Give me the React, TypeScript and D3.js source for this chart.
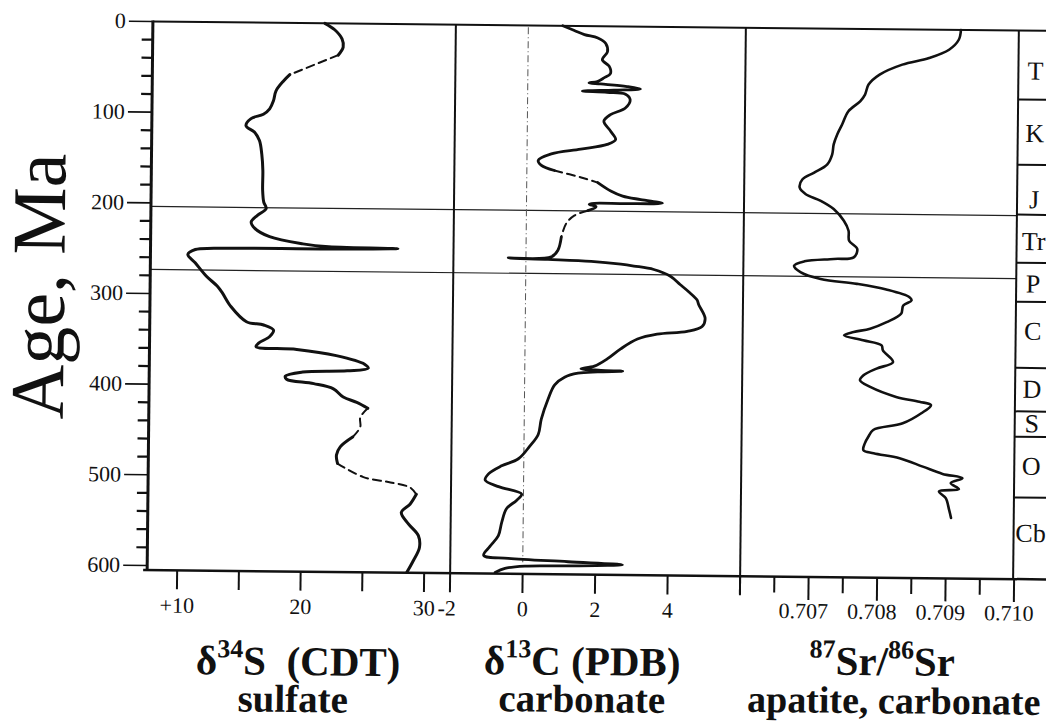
import React from "react";
import * as d3 from "d3";

// age (Ma), value, 1 = the piece of curve ending at this point is dashed
const sulfurPoints = [
  [0, 21.5, 0], [7, 22.3, 0], [17, 22.9, 0], [26, 23.0, 0], [35, 22.6, 0], [57, 18.7, 1],
  [64, 18.2, 0], [75, 17.6, 0], [86, 17.4, 0], [95, 17.1, 0], [101, 16.6, 0], [106, 15.6, 0],
  [114, 15.2, 0], [121, 15.9, 0], [130, 16.3, 0], [145, 16.5, 0], [163, 16.6, 0], [185, 16.6, 0],
  [198, 16.7, 0], [205, 16.9, 0], [212.5, 16.2, 0], [220, 15.7, 0], [227, 16.0, 0], [236, 17.2, 0],
  [243.5, 19.9, 0], [246.4, 22.0, 0], [247.6, 27.6, 0], [248.8, 22.0, 0], [249.4, 12.7, 0],
  [251, 11.2, 0], [256.5, 10.6, 0], [265.6, 11.2, 0], [280, 12.1, 0], [291, 13.0, 0], [298, 13.4, 0],
  [313, 14.1, 0], [330, 15.4, 0], [333.4, 16.8, 0], [339, 17.6, 0], [346, 17.3, 0], [353.5, 16.4, 0],
  [357.3, 16.2, 0], [360, 19.5, 0], [366.4, 22.7, 0], [375.5, 25.0, 0], [380, 25.3, 0], [383, 23.6, 0],
  [384.8, 20.0, 0], [389.5, 18.6, 0], [393, 18.7, 0], [397.5, 20.9, 0], [403, 22.5, 0], [412, 23.3, 0],
  [417.7, 24.4, 0], [424, 25.3, 0], [434, 24.7, 1], [445, 24.7, 1], [456, 24.1, 1], [467, 23.1, 0],
  [476, 22.8, 0], [485.4, 22.9, 0], [500, 25.0, 1], [505.6, 27.2, 1], [511, 28.8, 1], [518.4, 29.3, 1],
  [529.4, 28.8, 0], [538.6, 28.1, 0], [551.3, 28.7, 0], [564, 29.5, 0], [577, 29.6, 0], [592, 29.1, 0],
  [604.5, 28.6, 0],
];

const carbonPoints = [
  [0, 0.95, 0], [5, 1.27, 0], [9.5, 1.55, 0], [13, 1.92, 0], [19, 2.14, 0], [28, 2.19, 0], [37, 2.05, 0],
  [44, 2.24, 0], [52, 2.28, 0], [57, 2.1, 0], [61, 1.92, 0], [62.6, 1.69, 0], [63.7, 2.01, 0],
  [66.3, 2.74, 0], [68.8, 3.11, 0], [70.3, 2.38, 0], [71.8, 1.51, 0], [72.9, 2.19, 0], [74.7, 2.7, 0],
  [81, 2.83, 0], [90, 2.7, 0], [97.4, 2.29, 0], [104.7, 2.11, 0], [115.7, 2.3, 0], [124.8, 2.44, 0],
  [130.3, 2.21, 0], [135.8, 1.48, 0], [141.3, 0.67, 0], [148.7, 0.31, 0], [154.2, 0.4, 0],
  [159.7, 0.76, 0], [167, 1.5, 1], [172.5, 1.96, 1], [181.6, 2.32, 0], [187.1, 2.65, 0],
  [190.8, 3.15, 0], [194.5, 3.75, 0], [195.4, 2.74, 0], [195.4, 1.87, 0], [196.5, 1.73, 0],
  [199.2, 1.92, 0], [203.6, 1.69, 0], [209, 1.33, 1], [218, 1.1, 1], [233, 0.97, 1], [247.6, 0.88, 0],
  [255, 0.7, 0], [256.7, -0.49, 0], [257.8, 0.61, 0], [259.4, 1.8, 0], [262.2, 2.62, 0],
  [264.1, 2.98, 0], [267.7, 3.53, 0], [275, 3.99, 0], [284, 4.26, 0], [291.6, 4.49, 0],
  [300.7, 4.73, 0], [306, 4.78, 0], [321, 4.96, 0], [330, 4.88, 0], [335.5, 4.47, 0], [339, 3.64, 0],
  [344.6, 3.1, 0], [355.6, 2.64, 0], [366.6, 2.28, 0], [375, 1.92, 0], [378, 1.55, 0], [379.5, 2.1, 0],
  [380.2, 2.7, 0], [381.3, 2.01, 0], [383, 1.47, 0], [387.5, 1.1, 0], [396, 0.83, 0], [412, 0.65, 0],
  [434, 0.47, 0], [451, 0.39, 0], [464, 0.16, 0], [478, -0.15, 0], [486, -0.61, 0], [495, -0.97, 0],
  [502, -1.06, 0], [509, -0.69, 0], [517, -0.05, 0], [524, -0.19, 0], [533, -0.46, 0], [548, -0.59, 0],
  [563, -0.68, 0], [575, -0.91, 0], [585, -1.08, 0], [588, -0.4, 0], [591, 1.25, 0], [593.7, 2.75, 0],
  [595.6, 1.25, 0], [596.3, 0.06, 0], [599, -0.49, 0], [603.6, -0.76, 0],
];

const strontiumPoints = [
  [0, 0.70914], [10.8, 0.70911], [21.9, 0.70897], [31.3, 0.70868], [38.9, 0.70829], [50.2, 0.70796],
  [61.3, 0.7078], [72.3, 0.70775], [79.8, 0.70768], [90.9, 0.70751], [105.6, 0.70742], [116.6, 0.70735],
  [127.6, 0.7073], [138.6, 0.70728], [149.7, 0.70721], [159, 0.70702], [166.5, 0.70685], [175.7, 0.70681],
  [182.9, 0.7069], [190.1, 0.70712], [199, 0.70731], [211.8, 0.70746], [222.7, 0.70753], [233.7, 0.70754],
  [242.7, 0.70766], [252, 0.70761], [254, 0.70732], [257, 0.70689], [261.9, 0.70674], [269.1, 0.70684],
  [276.2, 0.70713], [281.2, 0.70766], [287.1, 0.70809], [295.3, 0.70843], [298.9, 0.70846],
  [304.5, 0.70834], [313.7, 0.70831], [323.1, 0.7081], [330.5, 0.70786], [334.4, 0.70762],
  [338.1, 0.70748], [343.4, 0.70776], [348.8, 0.70803], [354.3, 0.70805], [367, 0.7082], [374.4, 0.70796],
  [381.9, 0.70777], [387.5, 0.70772], [394.7, 0.70787], [405.4, 0.70825], [410.5, 0.70859],
  [414.1, 0.70876], [423.2, 0.70862], [434.5, 0.70835], [442.2, 0.70792], [449.7, 0.70785],
  [457, 0.7078], [464.4, 0.70778], [467.8, 0.70793], [473, 0.70831], [482, 0.70865], [489.8, 0.70894],
  [494.3, 0.70923], [499.9, 0.70906], [506.4, 0.70918], [509.2, 0.70889], [516.5, 0.70899],
  [529.2, 0.70904], [538.3, 0.70907],
];

const periodNames = ["T", "K", "J", "Tr", "P", "C", "D", "S", "O", "Cb"];
const periodBoundaries = [76, 148, 203, 256, 299, 372, 420, 448, 515];
const periodLabelAges = [44, 113, 186, 232, 279, 331, 395, 433, 480, 554];
const markerAges = [204, 273.5];

const sulfurTicks = [10, 15, 20, 25, 30];
const sulfurLabels = ["+10", "20", "30"];
const carbonTicks = [-2, 0, 2, 4, 6];
const carbonLabels = ["-2", "0", "2", "4"];
const srTicks = [0.7065, 0.707, 0.7075, 0.708, 0.7085, 0.709, 0.7095, 0.71];
const srLabels = ["0.707", "0.708", "0.709", "0.710"];

const serif = "Liberation Serif, DejaVu Serif, serif";

function splitSegments(points) {
  const segs = [];
  for (let i = 1; i < points.length; i++) {
    const dashed = points[i][2] === 1;
    const last = segs[segs.length - 1];
    if (last && last.dashed === dashed) last.pts.push(points[i]);
    else segs.push({ dashed, pts: [points[i - 1], points[i]] });
  }
  return segs;
}

const titleStyle = {
  fontFamily: "Liberation Serif",
  fontWeight: 700,
  fill: "#111",
  whiteSpace: "pre" as const,
};

export default function App() {
  const top = 26;
  const y = d3.scaleLinear().domain([0, 600]).range([top, 570]);
  const bottom = y(605);
  const xS = d3.scaleLinear().domain([10, 30]).range([180, 427]);
  const xC = d3.scaleLinear().domain([-2, 6]).range([453, 743]);
  const xSr = d3.scaleLinear().domain([0.706, 0.71]).range([743, 1017]);
  const left = 150;
  const colX = 1016;

  const curve = (x) =>
    d3
      .line()
      .x((d) => x(d[1]))
      .y((d) => y(d[0]))
      .curve(d3.curveCatmullRom.alpha(0.5));

  const series = [
    { pts: sulfurPoints, x: xS, w: 3 },
    { pts: carbonPoints, x: xC, w: 2.8 },
    { pts: strontiumPoints, x: xSr, w: 2.6 },
  ];

  const yTicks = d3.range(0, 601, 20);

  return (
    <svg
      width={1046}
      height={726}
      style={{ position: "absolute", left: 0, top: 0, background: "#fff", fontFamily: serif }}
    >
      <rect width={1046} height={726} fill="#fff" />
      <g transform="rotate(0.6 580 300)">
        {/* y label */}
        <text transform="translate(64,292) rotate(-90)" textAnchor="middle" fontSize={76} fill="#111">
          Age, Ma
        </text>

        {/* y axis */}
        {yTicks.map((t) => (
          <line
            key={"yt" + t}
            x1={t % 100 === 0 ? 126 : 139}
            x2={left}
            y1={y(t)}
            y2={y(t)}
            stroke="#111"
            strokeWidth={t % 100 === 0 ? 1.6 : 2.2}
          />
        ))}
        {yTicks
          .filter((t) => t % 100 === 0)
          .map((t) => (
            <text key={"yl" + t} x={123} y={y(t) + 7} textAnchor="end" fontSize={22} fill="#111">
              {t}
            </text>
          ))}

        {/* marker lines */}
        {markerAges.map((a) => (
          <line key={"m" + a} x1={left} x2={colX} y1={y(a)} y2={y(a)} stroke="#222" strokeWidth={1.2} />
        ))}

        {/* zero line of d13C */}
        <line
          x1={xC(0)}
          x2={xC(0)}
          y1={y(2)}
          y2={y(592)}
          stroke="#555"
          strokeWidth={1}
          strokeDasharray="7 3 1 3"
        />

        {/* curves */}
        {series.map((s, i) =>
          splitSegments(s.pts).map((seg, j) => (
            <path
              key={"c" + i + "-" + j}
              d={curve(s.x)(seg.pts)}
              fill="none"
              stroke="#111"
              strokeWidth={seg.dashed ? 2 : s.w}
              strokeDasharray={seg.dashed ? "8 5" : undefined}
              strokeLinejoin="round"
              strokeLinecap="round"
            />
          ))
        )}

        {/* frame */}
        <line x1={left} x2={left} y1={top - 1} y2={bottom + 1} stroke="#111" strokeWidth={3} />
        <line x1={left} x2={1060} y1={top} y2={top} stroke="#111" strokeWidth={2} />
        <line x1={146} x2={1060} y1={bottom} y2={bottom} stroke="#111" strokeWidth={2.5} />
        <line x1={xC(-2)} x2={xC(-2)} y1={top} y2={bottom} stroke="#111" strokeWidth={2} />
        <line x1={xSr(0.706)} x2={xSr(0.706)} y1={top} y2={bottom + 18} stroke="#111" strokeWidth={2} />
        <line x1={colX} x2={colX} y1={top} y2={bottom} stroke="#111" strokeWidth={2} />

        {/* periods */}
        {periodBoundaries.map((a) => (
          <line key={"pb" + a} x1={colX} x2={1060} y1={y(a)} y2={y(a)} stroke="#111" strokeWidth={2} />
        ))}
        {periodNames.map((n, i) => (
          <text
            key={"pn" + n}
            x={1033}
            y={y(periodLabelAges[i]) + 9}
            textAnchor="middle"
            fontSize={26}
            fill="#111"
          >
            {n}
          </text>
        ))}

        {/* bottom ticks */}
        {sulfurTicks.map((t) => (
          <line key={"st" + t} x1={xS(t)} x2={xS(t)} y1={bottom} y2={bottom + 19} stroke="#111" strokeWidth={2} />
        ))}
        {sulfurLabels.map((l) => (
          <text key={"sl" + l} x={xS(+l)} y={617} textAnchor="middle" fontSize={22} fill="#111">
            {l}
          </text>
        ))}
        {carbonTicks.map((t) => (
          <line key={"ct" + t} x1={xC(t)} x2={xC(t)} y1={bottom} y2={bottom + 19} stroke="#111" strokeWidth={2} />
        ))}
        {carbonLabels.map((l) => (
          <text key={"cl" + l} x={xC(+l) - (l === "-2" ? 3 : 0)} y={617} textAnchor="middle" fontSize={22} fill="#111">
            {l}
          </text>
        ))}
        {srTicks.map((t) => {
          const major = Math.abs(t * 1000 - Math.round(t * 1000)) < 1e-6;
          return (
            <line
              key={"rt" + t}
              x1={xSr(t)}
              x2={xSr(t)}
              y1={bottom}
              y2={bottom + (major ? 23 : 16)}
              stroke="#111"
              strokeWidth={2}
            />
          );
        })}
        {srLabels.map((l) => (
          <text key={"rl" + l} x={xSr(+l) - 5} y={616} textAnchor="middle" fontSize={22} fill="#111">
            {l}
          </text>
        ))}

        {/* axis titles */}
        <text x={302} y={678} textAnchor="middle" fontSize={41} style={titleStyle}>
          {"\u03B4"}
          <tspan dy={-17} fontSize={26}>34</tspan>
          <tspan dy={17}>{"S  (CDT)"}</tspan>
        </text>
        <text x={297} y={715} textAnchor="middle" fontSize={39} style={titleStyle}>
          sulfate
        </text>
        <text x={586} y={675} textAnchor="middle" fontSize={41} style={titleStyle}>
          {"\u03B4"}
          <tspan dy={-17} fontSize={26}>13</tspan>
          <tspan dy={17}>C (PDB)</tspan>
        </text>
        <text x={586} y={712} textAnchor="middle" fontSize={39} style={titleStyle}>
          carbonate
        </text>
        <text x={886} y={672} textAnchor="middle" fontSize={41} style={titleStyle}>
          <tspan dy={-17} fontSize={26}>87</tspan>
          <tspan dy={17}>Sr/</tspan>
          <tspan dy={-17} fontSize={26}>86</tspan>
          <tspan dy={17}>Sr</tspan>
        </text>
        <text x={898} y={710} textAnchor="middle" fontSize={38} style={titleStyle}>
          apatite, carbonate
        </text>
      </g>
    </svg>
  );
}
